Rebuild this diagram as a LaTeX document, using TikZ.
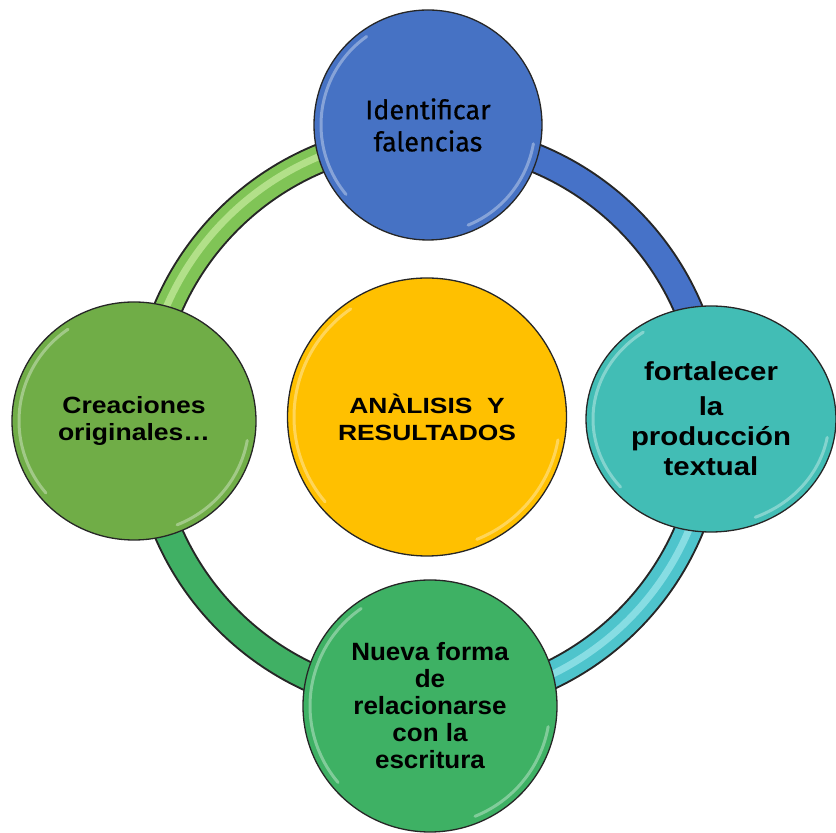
\documentclass[tikz,border=0pt]{standalone}
\usepackage{fontspec}
\usetikzlibrary{shapes.geometric}
\newfontfamily\topfont[FakeBold=0.6]{Fira Sans}
\newfontfamily\cenfont[FakeStretch=1.2]{Liberation Sans}
\newfontfamily\leftfont[FakeStretch=1.13]{Liberation Sans}
\newfontfamily\rightfont[FakeStretch=1.13]{Liberation Sans}
\newfontfamily\botfont[FakeStretch=1.04]{Liberation Sans}
\definecolor{cblue}{RGB}{70,114,196}
\definecolor{cteal}{RGB}{66,189,181}
\definecolor{cgreenB}{RGB}{62,177,100}
\definecolor{cgreenL}{RGB}{112,173,71}
\definecolor{cyellow}{RGB}{255,192,0}
\definecolor{arcTL}{RGB}{128,196,86}
\definecolor{arcTLhi}{RGB}{200,236,160}
\definecolor{arcTR}{RGB}{70,114,200}
\definecolor{arcBR}{RGB}{78,196,204}
\definecolor{arcBRhi}{RGB}{160,232,238}
\definecolor{arcBL}{RGB}{64,176,100}
\newcommand{\mygloss}[3]{%
  \draw[glosshi] (#1.center) ++(125:#2 and #3) arc[start angle=125,end angle=220,x radius=#2,y radius=#3];
  \draw[glosshi] (#1.center) ++(292:#2 and #3) arc[start angle=292,end angle=350,x radius=#2,y radius=#3];
}
\begin{document}
\begin{tikzpicture}[x=1pt,y=1pt,
  ringout/.style={line width=30pt, draw=black!85},
  ringin/.style={line width=26pt},
  ringhi/.style={line width=7pt, opacity=0.7},
  bubble/.style={ellipse, draw=black!85, line width=1.3pt, inner sep=0pt, align=center, text=black},
  glosshi/.style={draw=white, opacity=0.35, line width=3pt, line cap=round}]
\useasboundingbox (0,0) rectangle (836,833);
\coordinate (rc) at (428,413);
% ring outlines
\draw[ringout] (rc) ++(0:283) arc[start angle=0,end angle=360,radius=283];
% ring coloured quarters
\draw[ringin, draw=arcTR] (rc) ++(0:283) arc[start angle=0,end angle=90,radius=283];
\draw[ringin, draw=arcTL] (rc) ++(90:283) arc[start angle=90,end angle=180,radius=283];
\draw[ringin, draw=arcBL] (rc) ++(180:283) arc[start angle=180,end angle=270,radius=283];
\draw[ringin, draw=arcBR] (rc) ++(270:283) arc[start angle=270,end angle=360,radius=283];
% highlights on arcs
\draw[ringhi, draw=arcTLhi] (rc) ++(95:285) arc[start angle=95,end angle=175,radius=285];
\draw[ringhi, draw=arcBRhi] (rc) ++(275:283) arc[start angle=275,end angle=355,radius=283];
% nodes
\node[bubble, fill=cblue, minimum width=228pt, minimum height=230pt,
  font={\topfont\fontsize{27}{32}\selectfont}] (top) at (428,708)
  {Identificar\\falencias};
\node[bubble, fill=cgreenL, minimum width=244pt, minimum height=238pt,
  font={\leftfont\bfseries\fontsize{23.5}{27}\selectfont}] (left) at (134,412)
  {Creaciones\\originales\ldots};
\node[bubble, fill=cyellow, minimum width=279pt, minimum height=278pt,
  font={\cenfont\bfseries\fontsize{22}{27}\selectfont}] (cen) at (427,416)
  {ANÀLISIS\ \ Y\\RESULTADOS};
\node[bubble, fill=cteal, minimum width=250pt, minimum height=226pt,
  font={\rightfont\bfseries\fontsize{26}{30}\selectfont}] (right) at (711,414)
  {fortalecer\\[5pt]la\\producción\\textual};
\node[bubble, fill=cgreenB, minimum width=254pt, minimum height=252pt,
  font={\botfont\bfseries\fontsize{25}{27}\selectfont}] (bot) at (430,127)
  {Nueva forma\\de\\relacionarse\\con la\\escritura};
% gloss rims
\mygloss{top}{107}{108}
\mygloss{left}{115}{112}
\mygloss{cen}{133}{132}
\mygloss{right}{118}{106}
\mygloss{bot}{120}{119}
\end{tikzpicture}
\end{document}
